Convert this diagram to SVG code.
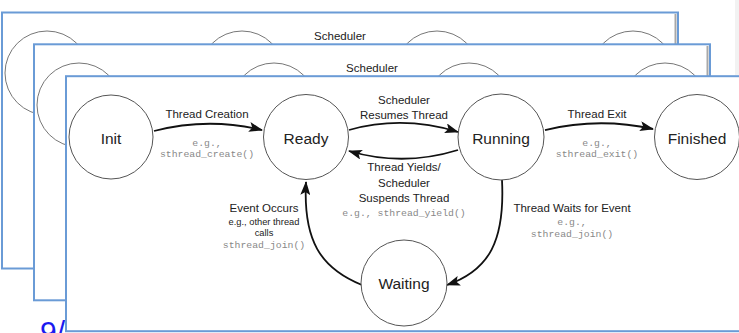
<svg xmlns="http://www.w3.org/2000/svg" width="739" height="333" viewBox="0 0 739 333">
<style>
.frame{fill:#fff;stroke:#6a9bd6;stroke-width:2}
.shadow{fill:none;stroke:#a8a8a8;stroke-width:2}
.bc{fill:none;stroke:#777;stroke-width:1}
.node{fill:#fff;stroke:#555;stroke-width:1}
.nl{font-family:"Liberation Sans",Arial,sans-serif;font-size:15.5px;fill:#222;text-anchor:middle}
.el{font-family:"Liberation Sans",Arial,sans-serif;font-size:11.5px;fill:#222;text-anchor:middle}
.sl{font-family:"Liberation Sans",Arial,sans-serif;font-size:9.3px;fill:#222;text-anchor:middle}
.code{font-family:"Liberation Mono","Courier New",monospace;font-size:9.8px;fill:#888;text-anchor:middle}
.edge{fill:none;stroke:#111;stroke-width:1.8}
</style>
<defs>
<marker id="arrow" viewBox="0 0 14 10" refX="13" refY="5" markerWidth="14" markerHeight="10" markerUnits="userSpaceOnUse" orient="auto">
<path d="M0,0 L14,5 L0,10 L3,5 Z" fill="#111"/>
</marker>
</defs>
<rect x="0" y="0" width="739" height="333" fill="#fff"/>
<rect x="735" y="0" width="4" height="75" fill="#f2f2f2"/>
<text x="40" y="342" font-family="Liberation Sans,Arial,sans-serif" font-size="30" fill="#1a1af0">9/</text>

<g id="frame-back-1">
<rect class="frame" x="2" y="12.5" width="676" height="256"/>
<line class="shadow" x1="675.5" y1="14" x2="675.5" y2="268"/>
<circle class="bc" cx="47" cy="73" r="42"/>
<circle class="bc" cx="242" cy="73" r="42"/>
<circle class="bc" cx="437" cy="73" r="42"/>
<circle class="bc" cx="633" cy="73" r="42"/>
<text class="el" x="340" y="39.5">Scheduler</text>
</g>

<g id="frame-back-2">
<rect class="frame" x="34" y="44.3" width="676" height="256"/>
<line class="shadow" x1="707.5" y1="46" x2="707.5" y2="300"/>
<circle class="bc" cx="79" cy="105" r="42"/>
<circle class="bc" cx="274" cy="105" r="42"/>
<circle class="bc" cx="469" cy="105" r="42"/>
<circle class="bc" cx="665" cy="105" r="42"/>
<text class="el" x="372" y="71.5">Scheduler</text>
</g>

<g id="frame-main">
<rect class="frame" x="66" y="76.2" width="690" height="255"/>
</g>

<g id="connectors">
<path class="edge" d="M154,131 Q208,117 262,130" marker-end="url(#arrow)"/>
<path class="edge" d="M349,130 Q403,115 458,132" marker-end="url(#arrow)"/>
<path class="edge" d="M458,150 Q403,167 349,151" marker-end="url(#arrow)"/>
<path class="edge" d="M545,130 Q599,117 653,129" marker-end="url(#arrow)"/>
<path class="edge" d="M502,180 C505,240 490,270 447,285" marker-end="url(#arrow)"/>
<path class="edge" d="M362,285 C320,268 303,240 306,182" marker-end="url(#arrow)"/>
<g id="label-create">
<text class="el" x="207" y="118">Thread Creation</text>
<text class="code" x="207" y="146">e.g.,</text>
<text class="code" x="207" y="157">sthread_create()</text>
</g>
<g id="label-resume">
<text class="el" x="404" y="103.5">Scheduler</text>
<text class="el" x="404" y="119">Resumes Thread</text>
</g>
<g id="label-yield">
<text class="el" x="404" y="171">Thread Yields/</text>
<text class="el" x="404" y="187">Scheduler</text>
<text class="el" x="404" y="202">Suspends Thread</text>
<text class="code" x="404" y="216">e.g., sthread_yield()</text>
</g>
<g id="label-exit">
<text class="el" x="597" y="118">Thread Exit</text>
<text class="code" x="597" y="146">e.g.,</text>
<text class="code" x="597" y="157">sthread_exit()</text>
</g>
<g id="label-wait">
<text class="el" x="572" y="212">Thread Waits for Event</text>
<text class="code" x="572" y="225">e.g.,</text>
<text class="code" x="572" y="237">sthread_join()</text>
</g>
<g id="label-event">
<text class="el" x="264" y="212">Event Occurs</text>
<text class="sl" x="264" y="225">e.g., other thread</text>
<text class="sl" x="264" y="236">calls</text>
<text class="code" x="264" y="248">sthread_join()</text>
</g>
</g>

<g id="node-init">
<circle class="node" cx="111" cy="137" r="42"/>
<text class="nl" x="111" y="143.5">Init</text>
</g>
<g id="node-ready">
<circle class="node" cx="306" cy="137" r="42.5"/>
<text class="nl" x="306" y="143.5">Ready</text>
</g>
<g id="node-running">
<circle class="node" cx="501" cy="137" r="43"/>
<text class="nl" x="501" y="143.5">Running</text>
</g>
<g id="node-finished">
<circle class="node" cx="697" cy="137" r="42.5"/>
<text class="nl" x="697" y="143.5">Finished</text>
</g>
<g id="node-waiting">
<circle class="node" cx="404" cy="283" r="43"/>
<text class="nl" x="404" y="289">Waiting</text>
</g>
</svg>
